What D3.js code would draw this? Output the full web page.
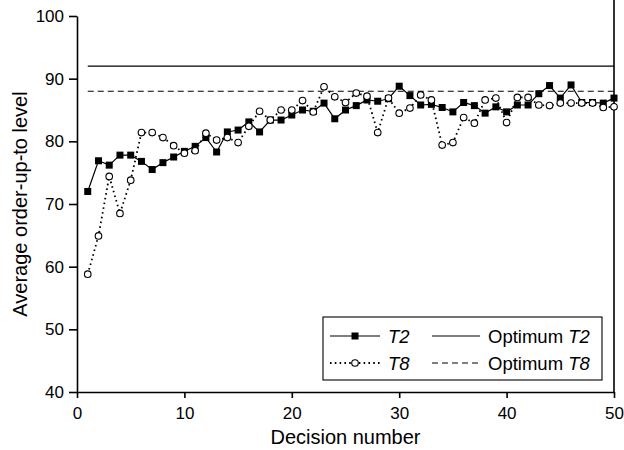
<!DOCTYPE html>
<meta charset="utf-8">
<script src="https://d3js.org/d3.v7.min.js"></script>
<style>
  body { margin: 0; background: #fff; }
  svg { font-family: 'Liberation Sans', Arial, sans-serif; }
  .axis path, .axis line { stroke: #000; stroke-width: 1.6; }
  .axis text { font-size: 17px; fill: #000; }
  text.title { font-size: 20px; fill: #000; }
  text.leg { font-size: 18.5px; fill: #000; }
</style>
<svg width="624" height="450"></svg>
<script>
  const decisions = [1, 2, 3, 4, 5, 6, 7, 8, 9, 10, 11, 12, 13, 14, 15, 16, 17, 18, 19, 20,
    21, 22, 23, 24, 25, 26, 27, 28, 29, 30, 31, 32, 33, 34, 35, 36, 37, 38, 39, 40,
    41, 42, 43, 44, 45, 46, 47, 48, 49, 50];

  const t2 = [72.0, 76.9, 76.2, 77.8, 77.8, 76.8, 75.5, 76.6, 77.5, 78.4,
    79.2, 80.6, 78.3, 81.5, 81.8, 83.1, 81.5, 83.4, 83.4, 84.2,
    85.0, 84.8, 86.1, 83.6, 85.0, 85.7, 86.6, 86.4, 86.8, 88.8,
    87.3, 85.8, 85.9, 85.4, 84.7, 86.2, 85.7, 84.5, 85.5, 84.7,
    85.8, 85.8, 87.6, 88.9, 86.9, 89.0, 86.2, 86.2, 86.1, 86.9];

  const t8 = [58.8, 64.9, 74.4, 68.5, 73.8, 81.4, 81.4, 80.6, 79.3, 78.1,
    78.5, 81.3, 80.2, 80.6, 79.8, 82.4, 84.8, 83.4, 85.0, 85.0,
    86.5, 84.7, 88.7, 87.1, 86.2, 87.7, 87.2, 81.4, 86.9, 84.5,
    85.3, 87.4, 86.6, 79.4, 79.8, 83.8, 82.9, 86.6, 86.9, 83.0,
    87.0, 87.0, 85.8, 85.7, 86.1, 86.1, 86.1, 86.1, 85.4, 85.5];

  const optimumT2 = 92;
  const optimumT8 = 88;

  const xTicks = [0, 10, 20, 30, 40, 50];
  const yTicks = [40, 50, 60, 70, 80, 90, 100];

  const svg = d3.select('svg');
  const margin = { left: 77, top: 16, right: 10, bottom: 58 };
  const width = 624 - margin.left - margin.right;
  const height = 450 - margin.top - margin.bottom;

  const chart = svg.append('g')
    .attr('transform', `translate(${margin.left}, ${margin.top})`);

  const x = d3.scaleLinear().domain([0, 50]).range([0, width]);
  const y = d3.scaleLinear().domain([40, 100]).range([height, 0]);

  // right frame line
  chart.append('line')
    .attr('x1', width).attr('x2', width)
    .attr('y1', -margin.top).attr('y2', height)
    .attr('stroke', '#000').attr('stroke-width', 1.6);

  chart.append('g')
    .attr('class', 'axis')
    .attr('transform', `translate(0, ${height})`)
    .call(d3.axisBottom(x).tickValues(xTicks).tickSize(6).tickSizeOuter(0).tickPadding(9));

  chart.append('g')
    .attr('class', 'axis')
    .call(d3.axisLeft(y).tickValues(yTicks).tickSize(8).tickSizeOuter(0).tickPadding(5));

  // optimum reference lines
  chart.append('line')
    .attr('x1', x(decisions[0])).attr('x2', x(decisions[decisions.length - 1]))
    .attr('y1', y(optimumT2)).attr('y2', y(optimumT2))
    .attr('stroke', '#000').attr('stroke-width', 1.1);

  chart.append('line')
    .attr('x1', x(decisions[0])).attr('x2', x(decisions[decisions.length - 1]))
    .attr('y1', y(optimumT8)).attr('y2', y(optimumT8))
    .attr('stroke', '#000').attr('stroke-width', 1.1)
    .attr('stroke-dasharray', '6 4');

  const line = d3.line().x((d, i) => x(decisions[i])).y(d => y(d));

  chart.append('path')
    .datum(t8)
    .attr('d', line)
    .attr('fill', 'none')
    .attr('stroke', '#000')
    .attr('stroke-width', 1.8)
    .attr('stroke-dasharray', '1.6 3.2');

  chart.append('path')
    .datum(t2)
    .attr('d', line)
    .attr('fill', 'none')
    .attr('stroke', '#000')
    .attr('stroke-width', 1.2);

  chart.selectAll('rect.t2')
    .data(t2)
    .enter()
    .append('rect')
    .attr('class', 't2')
    .attr('x', (d, i) => x(decisions[i]) - 3.5)
    .attr('y', d => y(d) - 3.5)
    .attr('width', 7)
    .attr('height', 7)
    .attr('fill', '#000');

  chart.selectAll('circle.t8')
    .data(t8)
    .enter()
    .append('circle')
    .attr('class', 't8')
    .attr('cx', (d, i) => x(decisions[i]))
    .attr('cy', d => y(d))
    .attr('r', 3.3)
    .attr('fill', '#fff')
    .attr('stroke', '#000')
    .attr('stroke-width', 1.1);

  // legend
  const legend = svg.append('g');
  legend.append('rect')
    .attr('x', 323).attr('y', 317)
    .attr('width', 279).attr('height', 63)
    .attr('fill', '#fff')
    .attr('stroke', '#000')
    .attr('stroke-width', 1.1);

  const row1 = 336, row2 = 363;

  legend.append('line')
    .attr('x1', 330).attr('x2', 380).attr('y1', row1).attr('y2', row1)
    .attr('stroke', '#000').attr('stroke-width', 1.2);
  legend.append('rect')
    .attr('x', 355 - 3.5).attr('y', row1 - 3.5).attr('width', 7).attr('height', 7)
    .attr('fill', '#000');
  legend.append('text').attr('class', 'leg')
    .attr('x', 388).attr('y', row1 + 6.5)
    .style('font-style', 'italic').text('T2');

  legend.append('line')
    .attr('x1', 330).attr('x2', 380).attr('y1', row2).attr('y2', row2)
    .attr('stroke', '#000').attr('stroke-width', 1.8)
    .attr('stroke-dasharray', '1.6 3.2');
  legend.append('circle')
    .attr('cx', 355).attr('cy', row2).attr('r', 3.3)
    .attr('fill', '#fff').attr('stroke', '#000').attr('stroke-width', 1.1);
  legend.append('text').attr('class', 'leg')
    .attr('x', 388).attr('y', row2 + 6.5)
    .style('font-style', 'italic').text('T8');

  legend.append('line')
    .attr('x1', 432).attr('x2', 480).attr('y1', row1).attr('y2', row1)
    .attr('stroke', '#000').attr('stroke-width', 1.1);
  const lt2 = legend.append('text').attr('class', 'leg')
    .attr('x', 488).attr('y', row1 + 6.5);
  lt2.append('tspan').text('Optimum ');
  lt2.append('tspan').style('font-style', 'italic').text('T2');

  legend.append('line')
    .attr('x1', 432).attr('x2', 480).attr('y1', row2).attr('y2', row2)
    .attr('stroke', '#000').attr('stroke-width', 1.1)
    .attr('stroke-dasharray', '6 4');
  const lt8 = legend.append('text').attr('class', 'leg')
    .attr('x', 488).attr('y', row2 + 6.5);
  lt8.append('tspan').text('Optimum ');
  lt8.append('tspan').style('font-style', 'italic').text('T8');

  // axis titles
  svg.append('text')
    .attr('class', 'title')
    .attr('x', margin.left + width / 2)
    .attr('y', 444)
    .attr('text-anchor', 'middle')
    .text('Decision number');

  svg.append('text')
    .attr('class', 'title')
    .attr('transform', `translate(27, ${margin.top + height / 2}) rotate(-90)`)
    .attr('text-anchor', 'middle')
    .text('Average order-up-to level');
</script>
